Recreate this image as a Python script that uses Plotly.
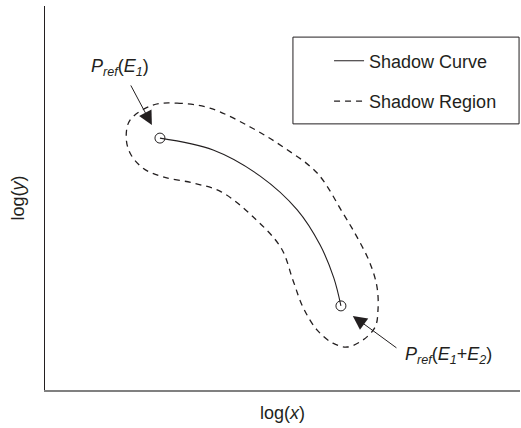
import plotly.graph_objects as go

# shadow curve, from P_ref(E1) to P_ref(E1+E2)
curve_x = [2.42, 3.54, 4.53, 5.31, 5.79, 6.08, 6.23]
curve_y = [6.56, 6.25, 5.57, 4.69, 3.78, 2.92, 2.19]

# closed outline of the shadow region
region_x = [2.27, 2.78, 3.47, 4.32, 5.01, 5.73, 6.27, 6.57, 6.84, 6.99, 7.01, 6.95,
            6.69, 6.36, 6.06, 5.73, 5.43, 5.22, 4.97, 4.38, 3.71, 3.12, 2.48, 2.06,
            1.79, 1.71, 1.79, 2.27]
region_y = [7.42, 7.47, 7.34, 6.85, 6.33, 5.65, 4.61, 3.98, 3.31, 2.68, 2.08, 1.64,
            1.30, 1.12, 1.22, 1.56, 2.16, 2.86, 3.70, 4.51, 5.16, 5.39, 5.55, 5.78,
            6.17, 6.59, 7.03, 7.42]

# labelled points: (arrow tip, arrow tail, label position)
labels = ["<i>P<sub>ref</sub></i>(<i>E<sub>1</sub></i>)",
          "<i>P<sub>ref</sub></i>(<i>E<sub>1</sub></i>+<i>E<sub>2</sub></i>)"]
tip_x = [2.25, 6.48]
tip_y = [6.90, 1.93]
tail_x = [1.79, 7.43]
tail_y = [7.97, 1.07]
label_x = [1.58, 7.54]
label_y = [8.39, 0.91]

font = "Liberation Sans, Arial, sans-serif"
ink = "#231f20"

fig = go.Figure()
fig.add_trace(go.Scatter(x=curve_x, y=curve_y, mode="lines", name="Shadow Curve",
                         line=dict(color=ink, width=1.1, shape="spline"),
                         legendgroup="a"))
fig.add_trace(go.Scatter(x=region_x, y=region_y, mode="lines", name="Shadow Region",
                         line=dict(color=ink, width=1.3, dash="6px,5px", shape="spline", smoothing=1.0),
                         legendgroup="b"))
fig.add_trace(go.Scatter(x=[curve_x[0], curve_x[-1]], y=[curve_y[0], curve_y[-1]],
                         mode="markers", showlegend=False,
                         marker=dict(symbol="circle-open", size=10, color=ink,
                                     line=dict(width=1, color=ink))))

for i in range(2):
    fig.add_annotation(x=tip_x[i], y=tip_y[i], ax=tail_x[i], ay=tail_y[i],
                       xref="x", yref="y", axref="x", ayref="y", text="",
                       showarrow=True, arrowhead=2, arrowsize=2.8, arrowwidth=1,
                       arrowcolor=ink)
fig.add_annotation(x=label_x[0], y=label_y[0], text=labels[0], showarrow=False,
                   xanchor="center", yanchor="middle", font=dict(size=18, color=ink))
fig.add_annotation(x=label_x[1], y=label_y[1], text=labels[1], showarrow=False,
                   xanchor="left", yanchor="middle", font=dict(size=18, color=ink))

# legend frame
fig.add_shape(type="rect", xref="paper", yref="paper", x0=0.522, x1=0.998,
              y0=0.693, y1=0.919, line=dict(color=ink, width=1))

fig.update_xaxes(range=[0, 10], showgrid=False, zeroline=False, showticklabels=False,
                 ticks="", showline=True, linecolor="#808080", linewidth=2,
                 automargin=False,
                 title=dict(text="log(<i>x</i>)", standoff=15,
                            font=dict(size=18, color=ink)))
fig.update_yaxes(range=[0, 10], showgrid=False, zeroline=False, showticklabels=False,
                 ticks="", showline=True, linecolor=ink, linewidth=1,
                 automargin=False,
                 title=dict(text="log(<i>y</i>)", standoff=14,
                            font=dict(size=18, color=ink)))

fig.update_layout(width=521, height=428, margin=dict(l=45, r=1, t=6, b=38),
                  plot_bgcolor="white", paper_bgcolor="white",
                  font=dict(family=font, color=ink),
                  legend=dict(x=0.598, y=0.905, xanchor="left", yanchor="top",
                              bgcolor="rgba(0,0,0,0)", tracegroupgap=14,
                              font=dict(size=18, color=ink)))

# drop the page's default body margin so the figure sits at the window corner
fig.write_html("out.html", config={"displayModeBar": False},
               post_script="document.body.style.margin='0';")
